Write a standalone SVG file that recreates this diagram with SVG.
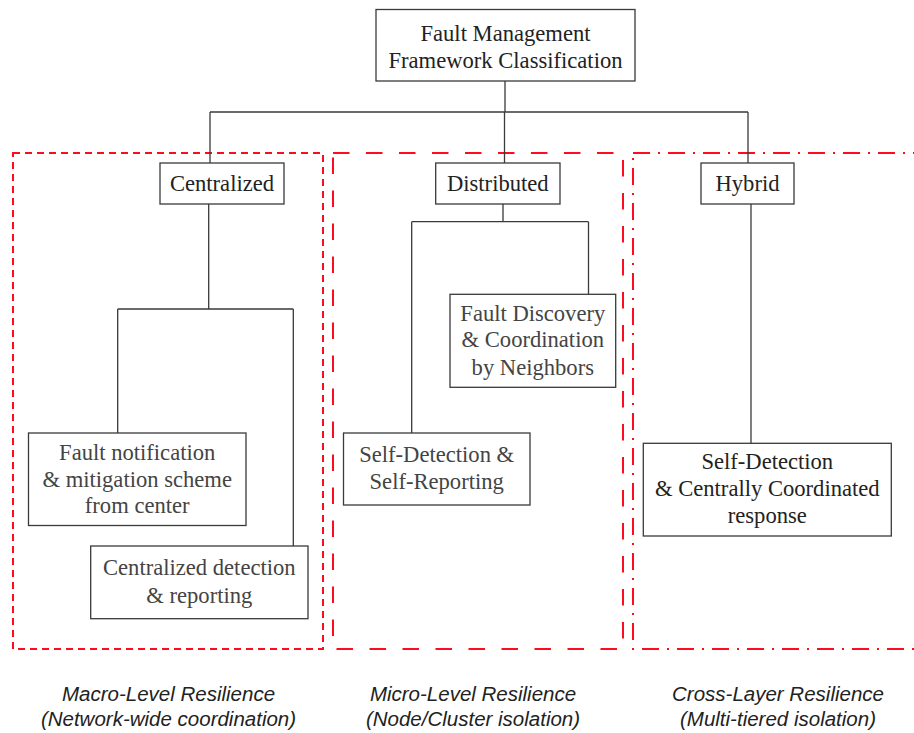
<svg xmlns="http://www.w3.org/2000/svg" width="914" height="733" viewBox="0 0 914 733">
  <style>
    .node rect { fill: #ffffff; stroke: #3a3a3a; stroke-width: 1.3; }
    .label { font-family: "Liberation Serif", "Times New Roman", serif; font-size: 22.6px; text-anchor: middle; fill: #222222; }
    .label.soft { fill: #444444; }
    .wire { fill: none; stroke: #3a3a3a; stroke-width: 1.3; }
    .zone { fill: none; stroke: #ff0a1e; stroke-width: 2; }
    .z1 { stroke-dasharray: 7 5; }
    .z2 { stroke-dasharray: 16.5 16.5; }
    .z3 { stroke-dasharray: 17 8 2 8; }
    .caption { font-family: "Liberation Sans", Arial, sans-serif; font-size: 20.5px; font-style: italic; text-anchor: middle; fill: #222222; }
  </style>

  <!-- resilience zones -->
  <g id="zones">
    <rect class="zone z1" x="13" y="153" width="310" height="496"/>
    <rect class="zone z2" x="333" y="153" width="290" height="496"/>
    <rect class="zone z3" x="633" y="153" width="290" height="496"/>
  </g>

  <!-- tree connectors -->
  <g id="connectors">
    <path class="wire" d="M505 81 V112 M210 112 H748 M210 112 V163 M504.5 112 V163 M748 112 V163"/>
    <path class="wire" d="M208.7 204 V309 M117.7 309 H293.3 M117.7 309 V433 M293.3 309 V546"/>
    <path class="wire" d="M503 204 V221.7 M411.7 221.7 H588.5 M411.7 221.7 V433 M588.5 221.7 V294"/>
    <path class="wire" d="M751 204 V443"/>
  </g>

  <g id="root" class="node">
    <rect x="376" y="9.5" width="259" height="71.5"/>
    <text class="label" x="505.5" y="41">Fault Management</text>
    <text class="label" x="505.5" y="68">Framework Classification</text>
  </g>

  <g id="centralized" class="node">
    <rect x="160" y="163" width="124" height="41"/>
    <text class="label" x="222" y="190.7">Centralized</text>
  </g>

  <g id="distributed" class="node">
    <rect x="435.7" y="163" width="124.3" height="41"/>
    <text class="label" x="497.8" y="190.7">Distributed</text>
  </g>

  <g id="hybrid" class="node">
    <rect x="701" y="163" width="93" height="41"/>
    <text class="label" x="747.5" y="190.7">Hybrid</text>
  </g>

  <g id="fault-notification" class="node">
    <rect x="28.5" y="433" width="217.5" height="92.5"/>
    <text class="label soft" x="137.2" y="460">Fault notification</text>
    <text class="label soft" x="137.2" y="486.5">&amp; mitigation scheme</text>
    <text class="label soft" x="137.2" y="513">from center</text>
  </g>

  <g id="centralized-detection" class="node">
    <rect x="90.7" y="546" width="217.3" height="72.7"/>
    <text class="label soft" x="199.3" y="575">Centralized detection</text>
    <text class="label soft" x="199.3" y="602.5">&amp; reporting</text>
  </g>

  <g id="fault-discovery" class="node">
    <rect x="450" y="294.3" width="165.7" height="93"/>
    <text class="label soft" x="532.8" y="320.7">Fault Discovery</text>
    <text class="label soft" x="532.8" y="347.3">&amp; Coordination</text>
    <text class="label soft" x="532.8" y="375">by Neighbors</text>
  </g>

  <g id="self-reporting" class="node">
    <rect x="343.5" y="433" width="186.5" height="72"/>
    <text class="label soft" x="436.7" y="461.7">Self-Detection &amp;</text>
    <text class="label soft" x="436.7" y="489.3">Self-Reporting</text>
  </g>

  <g id="central-response" class="node">
    <rect x="643.3" y="443.3" width="248" height="92.7"/>
    <text class="label" x="767.3" y="469.3">Self-Detection</text>
    <text class="label" x="767.3" y="495.8">&amp; Centrally Coordinated</text>
    <text class="label" x="767.3" y="523.3">response</text>
  </g>

  <!-- zone captions -->
  <g id="captions">
    <text class="caption" x="168.5" y="701">Macro-Level Resilience</text>
    <text class="caption" x="168.5" y="726">(Network-wide coordination)</text>
    <text class="caption" x="473" y="701">Micro-Level Resilience</text>
    <text class="caption" x="473" y="726">(Node/Cluster isolation)</text>
    <text class="caption" x="778" y="701">Cross-Layer Resilience</text>
    <text class="caption" x="778" y="726">(Multi-tiered isolation)</text>
  </g>
</svg>
